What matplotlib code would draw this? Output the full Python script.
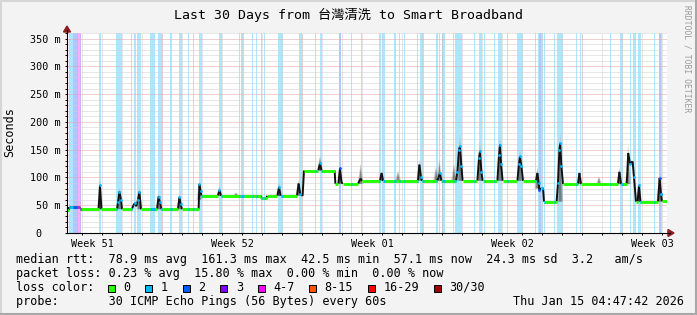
import numpy as np
import matplotlib
matplotlib.use("Agg")
import matplotlib.pyplot as plt
from matplotlib.collections import LineCollection
from matplotlib.patches import Rectangle, Polygon
from matplotlib.transforms import IdentityTransform

W, H, DPI = 697, 315, 100

# -----------------------------------------------------------
# Data (time in days, 0 = 30 days ago, 30 = now)
# -----------------------------------------------------------

med_day = [0.00, 0.10, 0.10, 0.65, 0.65, 1.58, 1.65, 1.72, 2.50, 2.55,
           2.62, 2.70, 2.75, 3.25, 3.32, 3.40, 3.47, 3.55, 3.62, 3.70,
           4.50, 4.58, 4.65, 4.72, 5.55, 5.62, 5.68, 5.75, 6.58, 6.62,
           6.68, 6.72, 7.55, 7.62, 7.70, 9.70, 9.72, 9.98, 10.00, 10.52,
           10.60, 10.68, 11.50, 11.58, 11.66, 11.78, 11.85, 12.57, 12.65, 12.72,
           13.38, 13.42, 13.57, 13.65, 13.72, 13.78, 14.55, 14.68, 14.75, 15.65,
           15.73, 15.80, 17.55, 17.62, 17.70, 17.75, 18.50, 18.58, 18.65, 18.72,
           19.45, 19.52, 19.60, 19.65, 19.72, 19.78, 20.52, 20.60, 20.65, 20.72,
           20.78, 21.52, 21.60, 21.65, 21.70, 21.78, 22.52, 22.60, 22.65, 22.72,
           22.80, 23.45, 23.52, 23.58, 23.62, 23.68, 23.80, 23.85, 24.48, 24.55,
           24.62, 24.66, 24.72, 24.80, 25.55, 25.62, 25.70, 27.55, 27.62, 27.70,
           27.98, 28.02, 28.06, 28.15, 28.28, 28.35, 28.45, 28.53, 28.60, 28.67,
           29.55, 29.63, 29.70, 29.75, 30.00]
med_ms = [41.5, 41.5, 46.0, 46.0, 42.7, 42.7, 86.0, 42.7, 42.7, 55.0,
          74.5, 60.0, 42.7, 42.7, 50.0, 54.0, 48.0, 60.0, 74.0, 42.7,
          42.7, 65.5, 55.0, 42.7, 42.7, 64.0, 52.0, 42.7, 42.7, 88.0,
          75.0, 67.0, 67.0, 77.0, 67.0, 67.0, 62.5, 62.5, 67.0, 67.0,
          82.0, 67.0, 67.0, 89.0, 70.0, 67.0, 112.5, 112.5, 126.0, 112.5,
          112.5, 88.5, 88.5, 117.0, 92.0, 88.5, 88.5, 98.0, 94.0, 94.0,
          108.0, 94.0, 94.0, 123.0, 100.0, 94.0, 94.0, 100.0, 108.0, 94.0,
          94.0, 110.0, 150.0, 156.0, 120.0, 94.0, 94.0, 135.0, 147.0, 110.0,
          94.0, 94.0, 140.0, 159.0, 125.0, 94.0, 94.0, 125.0, 138.0, 120.0,
          94.0, 94.0, 108.0, 90.0, 77.0, 81.0, 81.0, 56.5, 56.5, 90.0,
          150.0, 162.0, 120.0, 88.0, 88.0, 108.0, 88.0, 88.0, 110.0, 88.0,
          88.0, 110.0, 144.0, 125.0, 129.0, 100.0, 56.5, 56.5, 86.0, 56.5,
          56.5, 99.0, 70.0, 57.0, 57.0]

# smoke (spread of the 30 pings) around the spikes
smoke_day = [1.65, 2.62, 3.62, 4.58, 5.62, 6.62, 7.62, 8.45, 10.60, 11.58,
             12.65, 13.65, 14.68, 15.73, 16.55, 17.62, 18.45, 18.62, 19.35, 19.65,
             20.65, 21.65, 22.65, 23.52, 24.66, 25.62, 26.60, 27.62, 28.06, 28.60,
             29.63]
smoke_base = [42.7, 42.7, 42.7, 42.7, 42.7, 60.0, 67.0, 67.0, 67.0, 67.0,
              112.5, 88.5, 88.5, 94.0, 94.0, 94.0, 94.0, 94.0, 94.0, 94.0,
              94.0, 94.0, 94.0, 80.0, 56.5, 88.0, 88.0, 88.0, 88.0, 56.5,
              56.5]
smoke_top = [97, 82, 82, 72, 70, 92, 84, 73, 90, 95,
             140, 122, 125, 112, 112, 132, 120, 133, 125, 177,
             165, 172, 150, 120, 180, 112, 102, 118, 160, 90,
             104]

# loss bands: start day, end day, loss class (index into loss_colors)
band_start = [0.10, 0.30, 0.50, 0.55, 0.65, 1.60, 2.45, 3.20, 3.35, 3.50,
              4.15, 4.55, 5.15, 5.60, 6.05, 6.30, 6.60, 7.60, 8.60, 8.70,
              9.25, 9.45, 9.70, 9.85, 10.55, 11.60, 12.40, 12.65, 13.60, 14.20,
              14.70, 15.60, 15.75, 16.35, 16.60, 16.85, 17.50, 17.65, 18.45, 18.60,
              18.75, 19.30, 19.40, 20.35, 20.60, 20.85, 21.35, 21.55, 22.00, 22.50,
              23.40, 23.55, 23.60, 23.70, 23.85, 24.35, 24.50, 25.45, 25.65, 27.15,
              27.65, 28.15, 28.30, 28.55, 29.35, 29.60, 29.70]
band_end = [0.30, 0.50, 0.55, 0.65, 0.70, 1.70, 2.75, 3.26, 3.45, 3.70,
            4.40, 4.75, 5.25, 5.75, 6.11, 6.36, 6.75, 7.75, 8.66, 8.85,
            9.31, 9.51, 9.76, 9.91, 10.80, 11.75, 12.46, 12.75, 13.70, 14.26,
            14.76, 15.70, 15.90, 16.45, 16.66, 16.91, 17.56, 17.85, 18.55, 18.66,
            18.90, 19.36, 19.75, 20.41, 20.75, 20.91, 21.41, 21.75, 22.06, 22.80,
            23.46, 23.60, 23.70, 23.80, 23.91, 24.41, 24.80, 25.51, 25.71, 27.21,
            27.80, 28.21, 28.45, 28.70, 29.41, 29.70, 29.76]
band_loss = [1, 2, 3, 4, 3, 1, 1, 1, 1, 1,
             1, 1, 1, 1, 1, 1, 1, 1, 1, 1,
             1, 1, 1, 1, 1, 1, 1, 1, 2, 1,
             1, 1, 1, 1, 1, 1, 1, 1, 1, 1,
             1, 1, 1, 1, 1, 1, 1, 1, 1, 1,
             1, 1, 2, 1, 1, 1, 1, 1, 1, 1,
             1, 1, 1, 1, 1, 2, 1]

loss_labels = ['0', '1', '2', '3', '4-7', '8-15', '16-29', '30/30']
loss_colors = ['#26ff00', '#00b8ff', '#0059ff', '#7e00ff',
               '#ff00ff', '#ff5500', '#ff0000', '#a00000']

week_labels = ['Week 51', 'Week 52', 'Week 01', 'Week 02', 'Week 03']
week_label_day = [1.25, 8.25, 15.25, 22.25, 29.25]
week_grid_day = [4.75, 11.75, 18.75, 25.75]

y_ticks = [0, 50, 100, 150, 200, 250, 300, 350]
y_labels = ['0   ', '50 m', '100 m', '150 m', '200 m', '250 m', '300 m', '350 m']

rtt_stats = [78.9, 161.3, 42.5, 57.1, 24.3]   # avg, max, min, now, sd (ms)
am_s = 3.2
loss_stats = [0.23, 15.80, 0.00, 0.00]        # avg, max, min, now (%)

title = 'Last 30 Days from 台灣清洗 to Smart Broadband'
probe = '30 ICMP Echo Pings (56 Bytes) every 60s'
stamp = 'Thu Jan 15 04:47:42 2026'

# -----------------------------------------------------------

PIX = IdentityTransform()
MONO = 'DejaVu Sans Mono'
LEG = dict(family=MONO, fontsize=8.5, color='black', va='baseline', ha='left')
CHAR = 8.5 * DPI / 72 * 0.602

fig = plt.figure(figsize=(W / DPI, H / DPI), dpi=DPI, facecolor='#f3f3f3')
ax = fig.add_axes([67 / W, (H - 233) / H, 600 / W, 200 / H])
ax.set_facecolor('white')
ax.set_xlim(0, 30)
ax.set_ylim(0, 360)

# grid
dots = (0, (1, 1))
ax.set_yticks(y_ticks, y_labels)
ax.set_yticks(np.arange(0, 361, 10), minor=True)
ax.set_xticks(week_label_day, week_labels)
ax.set_xticks(np.arange(0.75, 30, 1), minor=True)
ax.grid(which='minor', axis='both', color='#cfcfcf', lw=0.72, ls=dots, zorder=0)
ax.grid(which='major', axis='y', color='#e6a3a3', lw=0.72, ls=dots, zorder=0)
for d in week_grid_day:
    ax.axvline(d, color='#e6a3a3', lw=0.72, ls=dots, zorder=0.5)

ax.tick_params(axis='both', which='both', labelsize=7.3, width=0.72, color='black')
ax.tick_params(axis='y', which='both', length=1.6, pad=3.2)
ax.tick_params(axis='x', which='major', length=0, pad=4.2)
ax.tick_params(axis='x', which='minor', length=1.6)
for lab in ax.get_xticklabels() + ax.get_yticklabels():
    lab.set_family(MONO)

for s in ('top', 'right'):
    ax.spines[s].set_visible(False)
for s in ('left', 'bottom'):
    ax.spines[s].set_linewidth(0.8)
    ax.spines[s].set_zorder(8)

# loss bands
for s, e, l in zip(band_start, band_end, band_loss):
    ax.axvspan(s, e, color=loss_colors[l], alpha=0.33, lw=0, zorder=1)

# smoke
for d, b, t in zip(smoke_day, smoke_base, smoke_top):
    ax.fill([d - 0.15, d, d + 0.15], [b, t, b], color='#8c8c8c', alpha=0.4, lw=0, zorder=2)
    ax.fill([d - 0.08, d, d + 0.08], [b, b + (t - b) * 0.8, b], color='#303030',
            alpha=0.45, lw=0, zorder=2)

# median rtt
md = np.array(med_day)
mm = np.array(med_ms)
segs = np.stack([np.column_stack([md[:-1], mm[:-1]]),
                 np.column_stack([md[1:], mm[1:]])], axis=1)
flat = mm[:-1] == mm[1:]
on_flat = np.zeros(len(md), bool)
on_flat[:-1] |= flat
on_flat[1:] |= flat
ax.add_collection(LineCollection(segs[~flat], colors='#111111', lw=1.4, zorder=4))
ax.add_collection(LineCollection(segs[flat], colors=loss_colors[0], lw=2.1,
                                 capstyle='butt', zorder=5))
for s, e, l in zip(band_start, band_end, band_loss):
    for (x0, y0), (x1, y1) in segs[flat]:
        a, b = max(x0, s), min(x1, e)
        if a < b:
            ax.plot([a, b], [y0, y0], color=loss_colors[l], lw=2.1,
                    solid_capstyle='butt', zorder=6)
    pick = (md >= s) & (md <= e) & ~on_flat
    ax.scatter(md[pick], mm[pick], s=4, color=loss_colors[l], lw=0, zorder=7)

# axis extensions and arrows
fig.add_artist(plt.Line2D([667, 670], [H - 233, H - 233], color='black', lw=0.8, transform=PIX))
fig.add_artist(plt.Line2D([67, 67], [H - 33, H - 30], color='black', lw=0.8, transform=PIX))
fig.add_artist(Polygon([[67, H - 26], [63.5, H - 32], [70.5, H - 32]], closed=True,
                       color='#8f1d1d', transform=PIX))
fig.add_artist(Polygon([[674, H - 233], [668, H - 229.5], [668, H - 236.5]], closed=True,
                       color='#8f1d1d', transform=PIX))

# texts
fig.text(348, H - 19, title, transform=PIX, ha='center', va='baseline', fontsize=9.5,
         family=[MONO, 'Noto Sans CJK TC'])
fig.text(10, H - 132, 'Seconds', transform=PIX, rotation=90, ha='center', va='center',
         fontsize=8.5, family=MONO)
fig.text(687, H - 5, 'RRDTOOL / TOBI OETIKER', transform=PIX, rotation=270,
         ha='center', va='top', fontsize=5.8, family=MONO, color='#9a9a9a')

r = rtt_stats
row1 = (f'median rtt:  {r[0]:.1f} ms avg  {r[1]:.1f} ms max  {r[2]:.1f} ms min  '
        f'{r[3]:.1f} ms now  {r[4]:.1f} ms sd  {am_s:.1f}   am/s')
p = loss_stats
row2 = f'packet loss: {p[0]:.2f} % avg  {p[1]:.2f} % max  {p[2]:.2f} % min  {p[3]:.2f} % now'
fig.text(16, H - 263, row1, transform=PIX, **LEG)
fig.text(16, H - 277, row2, transform=PIX, **LEG)
fig.text(16, H - 291, 'loss color:', transform=PIX, **LEG)
fig.text(16, H - 305, 'probe:       ' + probe, transform=PIX, **LEG)
fig.text(513, H - 305, stamp, transform=PIX, **LEG)

x = 108.0
for lab, col in zip(loss_labels, loss_colors):
    fig.add_artist(Rectangle((x, H - 292), 7, 7, facecolor=col, edgecolor='black',
                             lw=0.72, transform=PIX))
    fig.text(x + 15.5, H - 291, lab, transform=PIX, **LEG)
    x += 15.5 + len(lab) * CHAR + 14.8

# canvas frame
fig.add_artist(plt.Line2D([0.5, 0.5, W - 1], [0, H - 0.5, H - 0.5], color='#d6d6d6',
                          lw=1.5, transform=PIX))
fig.add_artist(plt.Line2D([1, W - 1, W - 1], [1, 1, H], color='#a8a8a8',
                          lw=2.2, transform=PIX))

fig.savefig('out.png', dpi=DPI, facecolor=fig.get_facecolor())
